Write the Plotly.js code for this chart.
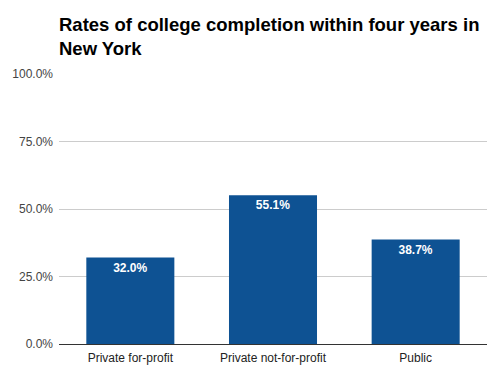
<!DOCTYPE html>
<html>
<head>
<meta charset="utf-8">
<script src="https://cdn.plot.ly/plotly-3.0.1.min.js"></script>
<style>html,body{margin:0;padding:0;background:#fff;}#chart{width:503px;height:378px;}</style>
</head>
<body>
<div id="chart"></div>
<script>
const categories = ["Private for-profit", "Private not-for-profit", "Public"];
const completionRates = [32.0, 55.1, 38.7];
const yTickValues = [0, 25, 50, 75, 100];
const yTickLabels = ["0.0%", "25.0%", "50.0%", "75.0%", "100.0%"];
const chartTitle = "Rates of college completion within four years in<br>New York";

const trace = {
  type: "bar",
  x: categories,
  y: completionRates,
  marker: {color: "#0e5293"},
  texttemplate: "<b>%{y:.1f}%</b>",
  textposition: "inside",
  insidetextanchor: "end",
  textfont: {color: "#ffffff", size: 12, family: "Liberation Sans, Arial, sans-serif"},
  cliponaxis: false,
  hoverinfo: "none"
};

const layout = {
  width: 503, height: 378,
  margin: {l: 59, r: 16, t: 74, b: 34},
  paper_bgcolor: "#ffffff",
  plot_bgcolor: "#ffffff",
  font: {family: "Liberation Sans, Arial, sans-serif", color: "#444444", size: 12},
  title: {
    text: "<b>" + chartTitle + "</b>",
    x: 59/503, xanchor: "left", xref: "container",
    y: 1 - 31/378, yanchor: "top", yref: "container",
    font: {size: 18.5, color: "#000000", family: "Liberation Sans, Arial, sans-serif"}
  },
  bargap: 0.383,
  showlegend: false,
  xaxis: {
    showgrid: false,
    showline: true, linecolor: "#333333", linewidth: 1,
    ticks: "", tickfont: {size: 12, color: "#222222"},
    ticklabelstandoff: 3,
    fixedrange: true
  },
  yaxis: {
    range: [0, 100],
    tickvals: yTickValues, ticktext: yTickLabels,
    showgrid: true, gridcolor: "#cccccc", gridwidth: 1,
    zeroline: false, showline: false,
    ticks: "", ticklen: 0, tickfont: {size: 12, color: "#444444"},
    ticklabelstandoff: 5,
    fixedrange: true
  }
};

Plotly.newPlot("chart", [trace], layout, {displayModeBar: false, staticPlot: true});
</script>
</body>
</html>
